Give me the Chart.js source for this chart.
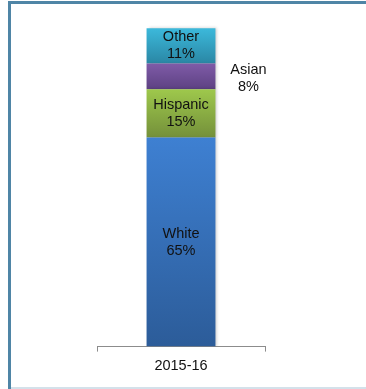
<!DOCTYPE html>
<html>
<head>
<meta charset="utf-8">
<script src="https://cdn.jsdelivr.net/npm/chart.js@4/dist/chart.umd.min.js"></script>
<style>
    html, body { margin: 0; padding: 0; background: #fff; }
    body { width: 366px; height: 389px; position: relative; overflow: hidden; }
    .frame {
        position: absolute; left: 8px; top: 1px; width: 400px; height: 500px;
        border-left: 3px solid #4f85a6; border-top: 3px solid #4f85a6;
    }
    .baseline { position: absolute; left: 11px; top: 387px; width: 400px; height: 2px; background: #d4e1ea; }
    #wrap { position: absolute; left: 0; top: 0; width: 366px; height: 389px; }
</style>
</head>
<body>
<div class="frame"></div>
<div class="baseline"></div>
<div id="wrap"><canvas id="raceChart" width="366" height="389"></canvas></div>
<script>
// --- Data ---
const categories = ['2015-16'];
const groups = ['White', 'Hispanic', 'Asian', 'Other'];
const shares = [65, 15, 8, 11];
// top / bottom shade of each segment
const topColors = ['#3e80d2', '#9ec84c', '#7f5ba8', '#3cb9db'];
const bottomColors = ['#2c5c99', '#74903a', '#5d4182', '#2a86a4'];

const FONT = '"Liberation Sans", Arial, sans-serif';

function segmentGradient(ctx, i) {
    const chart = ctx.chart;
    if (!chart.chartArea || !chart.scales.y) return topColors[i];
    const y = chart.scales.y;
    const start = shares.slice(0, i).reduce((a, b) => a + b, 0);
    const yBottom = y.getPixelForValue(start);
    const yTop = y.getPixelForValue(start + shares[i]);
    const g = chart.ctx.createLinearGradient(0, yTop, 0, yBottom);
    g.addColorStop(0, topColors[i]);
    g.addColorStop(1, bottomColors[i]);
    return g;
}

// labels inside / beside the bar
const segmentLabels = {
    id: 'segmentLabels',
    afterDatasetsDraw(chart) {
        const ctx = chart.ctx;
        ctx.save();
        ctx.font = '14.5px ' + FONT;
        ctx.fillStyle = '#111';
        ctx.textAlign = 'center';
        ctx.textBaseline = 'middle';
        chart.data.datasets.forEach((ds, i) => {
            const bar = chart.getDatasetMeta(i).data[0];
            if (!bar) return;
            let cx = bar.x;
            let cy = (bar.y + bar.base) / 2;
            if (ds.label === 'Asian') {
                cx = bar.x + bar.width / 2 + 33;
                cy += 2;
            }
            ctx.fillText(ds.label, cx, cy - 8.5);
            ctx.fillText(ds.data[0] + '%', cx, cy + 8.5);
        });
        ctx.restore();
    }
};

// soft shadow on the right of the bar
const barShadow = {
    id: 'barShadow',
    beforeDatasetDraw(chart) {
        const ctx = chart.ctx;
        ctx.save();
        ctx.shadowColor = 'rgba(0,0,0,0.22)';
        ctx.shadowBlur = 3;
        ctx.shadowOffsetX = 2;
    },
    afterDatasetDraw(chart) {
        chart.ctx.restore();
    }
};

new Chart(document.getElementById('raceChart'), {
    type: 'bar',
    data: {
        labels: categories,
        datasets: groups.map((g, i) => ({
            label: g,
            data: [shares[i]],
            backgroundColor: ctx => segmentGradient(ctx, i),
            borderWidth: 0,
            barPercentage: 0.41,
            categoryPercentage: 1
        }))
    },
    options: {
        responsive: false,
        animation: false,
        layout: { padding: { left: 97, right: 101, top: 25, bottom: 8 } },
        plugins: {
            legend: { display: false },
            tooltip: { enabled: false }
        },
        scales: {
            x: {
                stacked: true,
                border: { display: true, color: '#8c8c8c', width: 1 },
                grid: { display: true, drawOnChartArea: false, drawTicks: true, tickLength: 5, color: '#8c8c8c' },
                ticks: { color: '#111', font: { family: FONT, size: 14.5 }, padding: 6 }
            },
            y: {
                stacked: true,
                display: false,
                min: 0,
                max: 100
            }
        }
    },
    plugins: [barShadow, segmentLabels]
});
</script>
</body>
</html>
